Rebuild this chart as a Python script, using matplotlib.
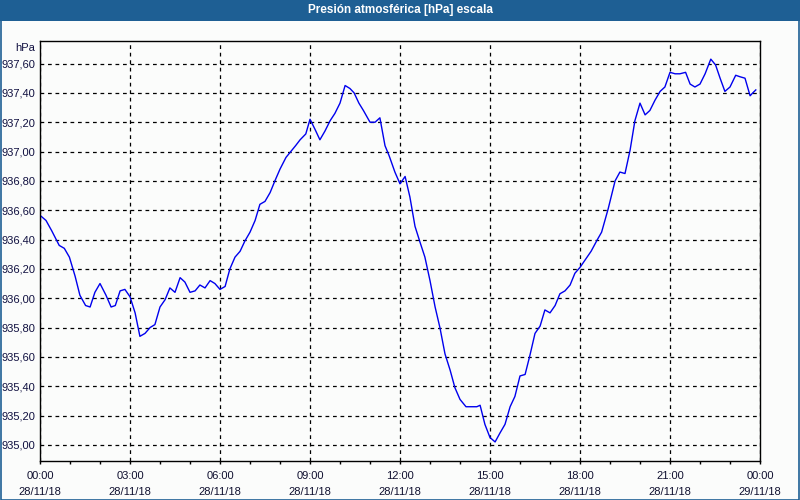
import matplotlib.pyplot as plt
from matplotlib.patches import Rectangle

# hora del dia (h) y presion (hPa)
horas = [0.03, 0.2, 0.39, 0.64, 0.81, 0.98, 1.17, 1.33, 1.52, 1.67, 1.83, 2.0, 2.2, 2.37, 2.51,
         2.67, 2.83, 3.0, 3.17, 3.33, 3.5, 3.67, 3.83, 4.0, 4.17, 4.33, 4.5, 4.67, 4.83, 5.0,
         5.17, 5.33, 5.5, 5.67, 5.83, 6.0, 6.17, 6.33, 6.5, 6.67, 6.83, 7.0, 7.17, 7.33, 7.5,
         7.67, 7.83, 8.0, 8.2, 8.36, 8.52, 8.67, 8.86, 9.0, 9.17, 9.33, 9.5, 9.67, 9.83, 10.0,
         10.17, 10.33, 10.47, 10.63, 10.78, 11.0, 11.17, 11.33, 11.5, 11.64, 11.83, 12.0, 12.17,
         12.33, 12.5, 12.67, 12.83, 13.0, 13.17, 13.33, 13.5, 13.67, 13.83, 14.0, 14.2, 14.56,
         14.67, 14.83, 15.0, 15.17, 15.33, 15.5, 15.67, 15.83, 16.0, 16.17, 16.33, 16.5, 16.67,
         16.83, 17.0, 17.17, 17.33, 17.5, 17.67, 17.83, 18.0, 18.17, 18.37, 18.58, 18.72, 18.94,
         19.17, 19.33, 19.5, 19.67, 19.83, 20.0, 20.17, 20.33, 20.5, 20.67, 20.83, 21.0, 21.17,
         21.33, 21.52, 21.67, 21.83, 22.0, 22.17, 22.36, 22.52, 22.67, 22.83, 23.0, 23.19, 23.33,
         23.5, 23.67, 23.76, 23.86]
presion = [936.56, 936.53, 936.46, 936.36, 936.34, 936.28, 936.15, 936.02, 935.95, 935.94, 936.04,
           936.10, 936.02, 935.94, 935.95, 936.05, 936.06, 936.01, 935.90, 935.74, 935.76, 935.80,
           935.82, 935.94, 935.99, 936.07, 936.04, 936.14, 936.11, 936.04, 936.05, 936.09, 936.07,
           936.12, 936.10, 936.06, 936.08, 936.20, 936.28, 936.32, 936.39, 936.45, 936.53, 936.64,
           936.66, 936.72, 936.80, 936.88, 936.96, 937.00, 937.04, 937.08, 937.12, 937.22, 937.15,
           937.08, 937.14, 937.21, 937.26, 937.33, 937.45, 937.43, 937.40, 937.33, 937.28, 937.20,
           937.20, 937.23, 937.04, 936.97, 936.86, 936.78, 936.83, 936.69, 936.49, 936.38, 936.28,
           936.12, 935.94, 935.80, 935.62, 935.51, 935.39, 935.31, 935.26, 935.26, 935.27, 935.14,
           935.05, 935.02, 935.08, 935.14, 935.26, 935.33, 935.47, 935.48, 935.61, 935.76, 935.81,
           935.92, 935.90, 935.95, 936.03, 936.05, 936.09, 936.17, 936.21, 936.26, 936.32, 936.40,
           936.45, 936.61, 936.80, 936.86, 936.85, 937.01, 937.21, 937.33, 937.25, 937.28, 937.35,
           937.41, 937.44, 937.54, 937.53, 937.53, 937.54, 937.46, 937.44, 937.46, 937.53, 937.63,
           937.59, 937.50, 937.41, 937.44, 937.52, 937.51, 937.50, 937.38, 937.40, 937.42]

horas_ticks = [0, 3, 6, 9, 12, 15, 18, 21, 24]
etiquetas_x = ["00:00\n28/11/18", "03:00\n28/11/18", "06:00\n28/11/18", "09:00\n28/11/18",
               "12:00\n28/11/18", "15:00\n28/11/18", "18:00\n28/11/18", "21:00\n28/11/18",
               "00:00\n29/11/18"]
presion_ticks = [935.0, 935.2, 935.4, 935.6, 935.8, 936.0, 936.2, 936.4, 936.6, 936.8,
                 937.0, 937.2, 937.4, 937.6]

azul = '#1e5f94'
fondo = '#fbfcfb'
plt.rcParams['font.family'] = ['Liberation Sans', 'DejaVu Sans']

fig = plt.figure(figsize=(8, 5), dpi=100, facecolor=fondo)
ax = fig.add_axes([0.05, 0.078, 0.90, 0.841], facecolor=fondo)

# barra de titulo y borde
fig.patches.append(Rectangle((0, 0.958), 1, 0.042, transform=fig.transFigure,
                             facecolor=azul, edgecolor='none'))
fig.patches.append(Rectangle((0.001, 0.001), 0.998, 0.998, transform=fig.transFigure,
                             facecolor='none', edgecolor=azul, lw=1.2))
fig.text(0.5, 0.979, "Presión atmosférica [hPa] escala", color='white', fontsize=8.5,
         fontweight='bold', ha='center', va='center')

ax.plot(horas, presion, color='#0000ee', lw=1)

ax.set_xlim(0, 24)
ax.set_ylim(934.89, 937.757)
ax.set_xticks(horas_ticks)
ax.set_xticklabels(etiquetas_x, fontsize=8, color='#101030', linespacing=1.65)
ax.set_xticks(range(0, 25), minor=True)
ax.set_yticks(presion_ticks)
ax.set_yticklabels([f"{v:.2f}".replace('.', ',') for v in presion_ticks],
                   fontsize=8, color='#101040')
ax.tick_params(axis='x', which='major', length=2.5, width=1, direction='out', pad=5)
ax.tick_params(axis='x', which='minor', length=1.8, width=1, direction='out')
ax.tick_params(axis='y', length=0, pad=3.5)
ax.grid(True, color='black', linestyle=(0, (3, 3)), lw=0.9)
for s in ax.spines.values():
    s.set_color('black')
    s.set_linewidth(1)

ax.text(-0.007, 0.995, "hPa", transform=ax.transAxes, fontsize=8, color='#101040',
        ha='right', va='top')

fig.savefig("out.png", dpi=100, facecolor=fondo)
